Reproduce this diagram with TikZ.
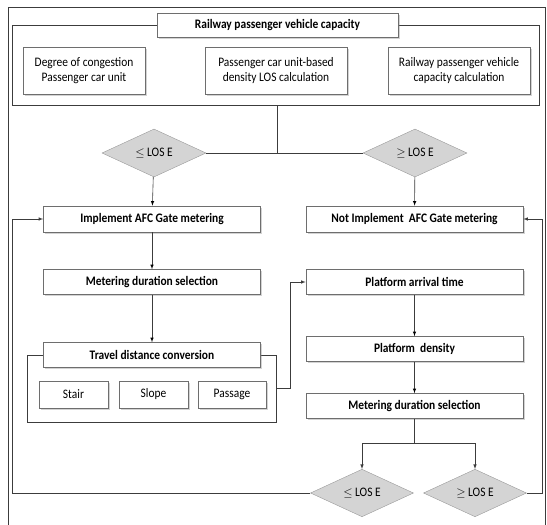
\documentclass[tikz,border=0pt]{standalone}
\usepackage{fontspec}
\setmainfont{Carlito}[FakeStretch=0.88]
\usetikzlibrary{shapes.geometric,shadows}
\definecolor{linegray}{RGB}{60,60,60}
\definecolor{boxgray}{RGB}{110,110,110}
\definecolor{diafill}{RGB}{212,212,212}
\tikzset{every node/.style={align=center}, >=latex, font=\fontsize{13}{15}\selectfont}
\tikzset{
  box/.style={draw=boxgray, fill=white, line width=0.6pt, inner sep=0pt,
    drop shadow={shadow xshift=1.5pt, shadow yshift=-1.5pt, opacity=0.35}},
  bbox/.style={box, font=\fontsize{13}{15}\selectfont\bfseries},
  cond/.style={diamond, draw=gray!80, fill=diafill, inner sep=0pt},
  conn/.style={draw=linegray, line width=0.6pt}
}
\begin{document}
\begin{tikzpicture}[x=1pt,y=-1pt]
  \useasboundingbox (0,0) rectangle (547,525);
  % outer frame and top group
  \draw[linegray, line width=0.8pt] (8,525) -- (8,7) -- (545,7) -- (545,525);
  \draw[conn] (12,25) rectangle (539,105);
  \node[bbox, minimum width=241pt, minimum height=24pt] (cap) at (277.5,25) {Railway passenger vehicle capacity};
  \node[box, minimum width=122pt, minimum height=47pt] (t1) at (84,71) {Degree of congestion\\Passenger car unit};
  \node[box, minimum width=142pt, minimum height=47pt] (t2) at (276,71) {Passenger car unit-based\\density LOS calculation};
  \node[box, minimum width=142pt, minimum height=47pt] (t3) at (459,71) {Railway passenger vehicle\\capacity calculation};
  \coordinate (top) at (277,105);
  \coordinate (mid) at (277,153);

  % first decision
  \node[cond, minimum width=104pt, minimum height=48pt] (d1) at (154,153) {$\leq$ LOS E};
  \node[cond, minimum width=104pt, minimum height=48pt] (d2) at (415,153) {$\geq$ LOS E};
  \draw[conn] (top) -- (mid) (d1) -- (d2);

  % left column
  \node[bbox, minimum width=217pt, minimum height=26pt] (a1) at (152,219) {Implement AFC Gate metering};
  \node[bbox, minimum width=217pt, minimum height=25pt] (a2) at (152,282) {Metering duration selection};
  \draw[conn] (27,355) rectangle (276,422);
  \node[bbox, minimum width=217pt, minimum height=25pt] (a3) at (152,355) {Travel distance conversion};
  \node[box, minimum width=69pt, minimum height=27pt] (u1) at (73.5,394.5) {Stair};
  \node[box, minimum width=69pt, minimum height=27pt] (u2) at (153.5,394.5) {Slope};
  \node[box, minimum width=68pt, minimum height=27pt] (u3) at (232,394.5) {Passage};
  \coordinate (g) at (276,388);

  % right column
  \node[bbox, minimum width=217pt, minimum height=26pt] (b1) at (414.5,219) {Not Implement~~AFC Gate metering};
  \node[bbox, minimum width=217pt, minimum height=25pt] (b2) at (414.5,282) {Platform arrival time};
  \node[bbox, minimum width=217pt, minimum height=25pt] (b3) at (414.5,349) {Platform~~density};
  \node[bbox, minimum width=217pt, minimum height=25pt] (b4) at (414.5,406) {Metering duration selection};

  % second decision
  \node[cond, minimum width=103pt, minimum height=44pt] (d3) at (362,493) {$\leq$ LOS E};
  \node[cond, minimum width=103pt, minimum height=44pt] (d4) at (475,493) {$\geq$ LOS E};
  \coordinate (sp) at (414.5,443);

  \path[conn, ->] (d1) edge (a1)
    (d2) edge (b1)
    (a1) edge (a2)
    (a2) edge (a3)
    (b2) edge (b3)
    (b3) edge (b4);
  \draw[conn, ->] (g) -| (290,282) -- (b2.west);
  \draw[conn] (b4) -- (sp);
  \draw[conn, ->] (sp) -| (d3.north);
  \draw[conn, ->] (sp) -| (d4.north);
  \draw[conn, ->] (d3.west) -| (12,219) -- (a1.west);
  \draw[conn, ->] (d4.east) -| (542,219) -- (b1.east);
\end{tikzpicture}
\end{document}
